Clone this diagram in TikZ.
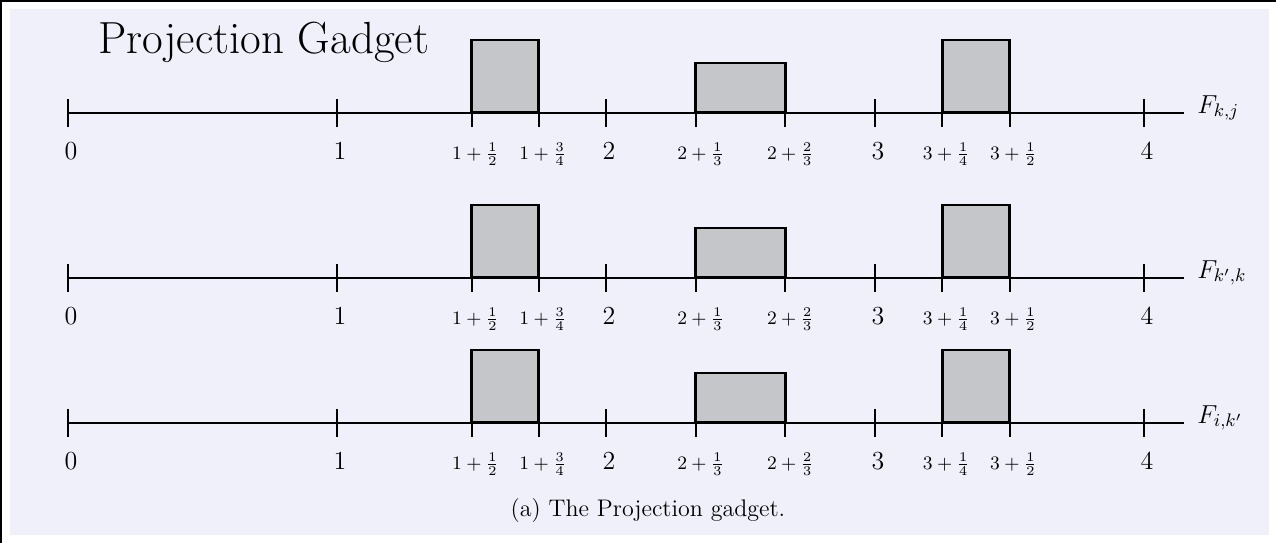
\documentclass[tikz,border=0pt]{standalone}
\usepackage{fix-cm}
\definecolor{bgpanel}{HTML}{F0F0FB}
\definecolor{boxgray}{HTML}{C5C6CA}
\tikzset{
  axisline/.style={line width=1pt,black},
  tickmark/.style={line width=1pt,black},
  gbox/.style={draw=black,line width=1.3pt,fill=boxgray},
  numlab/.style={anchor=base,inner sep=0pt,font=\fontsize{13}{15}\selectfont},
  fraclab/.style={anchor=base,inner sep=0pt,font=\fontsize{9.5}{11}\selectfont},
  flab/.style={anchor=base west,inner sep=0pt,font=\fontsize{13}{15}\selectfont},
}
\begin{document}
\begin{tikzpicture}[x=0.5pt,y=-0.5pt]
\useasboundingbox (0,0) rectangle (1276,543);
\fill[white] (0,0) rectangle (1276,543);
\fill[black] (0,0) rectangle (1276,2);
\fill[black] (0,0) rectangle (2,543);
\fill[bgpanel] (10,9) rectangle (1269,535);
\node[anchor=base west,inner sep=0pt,font=\fontsize{22.5}{26}\selectfont] (title) at (98,53) {Projection Gadget};
\foreach \yy/\lab/\n in {113/{F_{k,j}}/a,278/{F_{k',k}}/b,423/{F_{i,k'}}/c}{
  \coordinate (\n s) at (68,\yy);
  \coordinate (\n e) at (1184,\yy);
  \draw[gbox] ({68+269*1.5},\yy-1) rectangle ({68+269*1.75},\yy-73);
  \draw[gbox] ({68+269*2.3333},\yy-1) rectangle ({68+269*2.6667},\yy-50);
  \draw[gbox] ({68+269*3.25},\yy-1) rectangle ({68+269*3.5},\yy-73);
  \draw[axisline] (\n s) -- (\n e);
  \foreach \v in {0,1,1.5,1.75,2,2.3333,2.6667,3,3.25,3.5,4}{
    \draw[tickmark] ({68+269*\v},\yy-14) -- ({68+269*\v},\yy+14);
  }
  \node[numlab] (\n l0) at (71,\yy+46) {0};
  \node[numlab] (\n l1) at ({71+269},\yy+46) {1};
  \node[numlab] (\n l2) at ({71+269*2},\yy+46) {2};
  \node[numlab] (\n l3) at ({71+269*3},\yy+46) {3};
  \node[numlab] (\n l4) at ({71+269*4},\yy+46) {4};
  \node[fraclab] (\n f1) at ({72+269*1.5},\yy+46) {$1+\frac{1}{2}$};
  \node[fraclab] (\n f2) at ({72+269*1.75},\yy+46) {$1+\frac{3}{4}$};
  \node[fraclab] (\n f3) at ({73+269*2.3333},\yy+46) {$2+\frac{1}{3}$};
  \node[fraclab] (\n f4) at ({73+269*2.6667},\yy+46) {$2+\frac{2}{3}$};
  \node[fraclab] (\n f5) at ({72+269*3.25},\yy+46) {$3+\frac{1}{4}$};
  \node[fraclab] (\n f6) at ({72+269*3.5},\yy+46) {$3+\frac{1}{2}$};
  \node[flab] (\n F) at (1197,\yy) {$\lab$};
}
\node[anchor=base,inner sep=0pt,font=\fontsize{12}{14}\selectfont] (caption) at (648,516) {(a) The Projection gadget.};
\end{tikzpicture}
\end{document}
